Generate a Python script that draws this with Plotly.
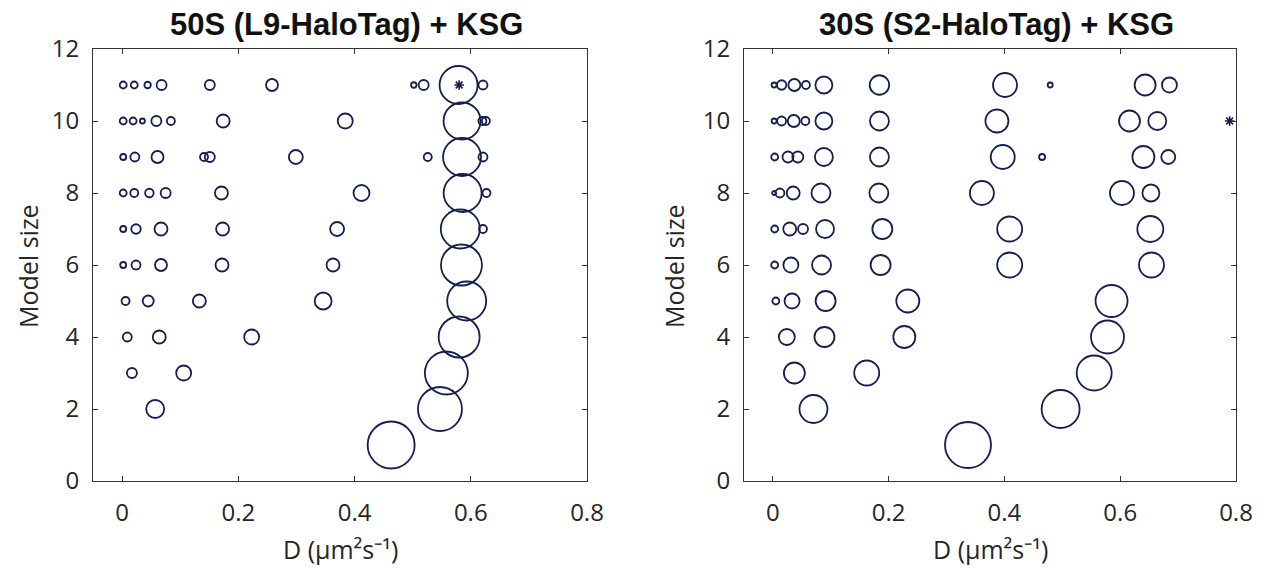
import plotly.graph_objects as go

# ---------------- data ----------------
# Left panel: 50S (L9-HaloTag) + KSG
left_model = [11]*10 + [10]*10 + [9]*9 + [8]*8 + [7]*7 + [6]*6 + [5]*5 + [4]*4 + [3]*3 + [2]*2 + [1]
left_D = [0.002, 0.021, 0.044, 0.068, 0.151, 0.258, 0.502, 0.519, 0.579, 0.621,
          0.002, 0.019, 0.035, 0.059, 0.084, 0.174, 0.384, 0.585, 0.620, 0.626,
          0.002, 0.022, 0.061, 0.141, 0.151, 0.299, 0.526, 0.585, 0.621,
          0.002, 0.021, 0.047, 0.075, 0.171, 0.412, 0.586, 0.627,
          0.002, 0.024, 0.067, 0.173, 0.370, 0.582, 0.621,
          0.002, 0.024, 0.067, 0.172, 0.363, 0.584,
          0.006, 0.045, 0.133, 0.346, 0.593,
          0.009, 0.064, 0.223, 0.580,
          0.017, 0.106, 0.558,
          0.057, 0.547,
          0.463]
left_weight = [7, 7, 6.5, 10, 10, 12, 5.5, 10, 38, 9,
               7, 7, 5, 10, 8, 13, 15, 37, 8, 8,
               6, 9, 12, 8, 10, 14, 8, 38, 9,
               7, 8, 8.5, 10, 13, 16, 38, 8,
               6, 9.5, 13, 13, 14, 39, 8,
               6, 9, 12, 13, 13, 41,
               8, 11, 13, 17, 39,
               9, 13, 15, 41,
               10, 15, 43,
               18, 44,
               47]
left_star_D = [0.580]
left_star_model = [11]

# Right panel: 30S (S2-HaloTag) + KSG
right_model = [11]*10 + [10]*9 + [9]*9 + [8]*8 + [7]*7 + [6]*6 + [5]*5 + [4]*4 + [3]*3 + [2]*2 + [1]
right_D = [0.002, 0.015, 0.037, 0.057, 0.088, 0.184, 0.401, 0.479, 0.643, 0.685,
           0.002, 0.015, 0.036, 0.056, 0.088, 0.184, 0.387, 0.616, 0.664,
           0.003, 0.026, 0.043, 0.088, 0.184, 0.397, 0.465, 0.640, 0.683,
           0.002, 0.012, 0.035, 0.083, 0.183, 0.361, 0.603, 0.653,
           0.003, 0.029, 0.052, 0.090, 0.189, 0.409, 0.652,
           0.003, 0.031, 0.084, 0.186, 0.409, 0.654,
           0.005, 0.033, 0.091, 0.233, 0.585,
           0.024, 0.089, 0.227, 0.578,
           0.037, 0.162, 0.555,
           0.070, 0.497,
           0.337]
right_weight = [5, 9.5, 12, 8, 17, 19.5, 24, 5, 21, 15,
                5, 9, 12, 8, 17, 19, 23, 21, 18,
                7, 11, 11, 18, 19, 24, 6, 22, 14,
                4, 9, 13, 19, 19, 24, 24, 17,
                7, 13, 10, 18, 20, 25, 26,
                7, 15, 19, 20, 25, 25,
                7, 15, 20, 23, 32,
                16, 20, 22, 33,
                21, 25, 35,
                28, 38,
                46]
right_star_D = [0.789]
right_star_model = [10]

titles = ["50S (L9-HaloTag) + KSG", "30S (S2-HaloTag) + KSG"]
x_ticks = [0, 0.2, 0.4, 0.6, 0.8]
x_ticklabels = ["0", "0.2", "0.4", "0.6", "0.8"]
y_ticks = [0, 2, 4, 6, 8, 10, 12]

# ---------------- figure ----------------
COL = "#16204e"
TITLE_FONT = "Liberation Sans, Arial, sans-serif"
FONT = "Open Sans, Liberation Sans, sans-serif"

# page body adds an 8px offset; work in window pixels and convert
OFF = 8
W, H = 1266 - OFF, 569 - OFF
fx = lambda px: (px - OFF) / W
fy = lambda py: 1 - (py - OFF) / H

fig = go.Figure()

def add_panel(xd, yd, w, sx, sy, xa, ya):
    fig.add_trace(go.Scatter(
        x=xd, y=yd, mode="markers", xaxis=xa, yaxis=ya, showlegend=False,
        marker=dict(size=w, sizemode="diameter", color=COL, opacity=1,
                    line=dict(color=COL, width=1.8), symbol="circle-open"),
    ))
    fig.add_trace(go.Scatter(
        x=sx, y=sy, mode="markers", xaxis=xa, yaxis=ya, showlegend=False,
        marker=dict(size=8, symbol="asterisk-open", color=COL,
                    line=dict(color=COL, width=1.6)),
    ))

add_panel(left_D, left_model, left_weight, left_star_D, left_star_model, "x", "y")
add_panel(right_D, right_model, right_weight, right_star_D, right_star_model, "x2", "y2")

y_dom = [fy(481), fy(49)]
xdom1 = [fx(93), fx(587)]
xdom2 = [fx(744), fx(1236)]

ax_common = dict(showline=True, linecolor="#333333", linewidth=1, mirror="ticks",
                 ticks="inside", ticklen=5, tickcolor="#333333", showgrid=False,
                 zeroline=False, automargin=False,
                 tickfont=dict(family=FONT, size=24, color="#262626"))

fig.update_layout(
    template="none",
    width=W, height=H,
    margin=dict(l=0, r=0, t=0, b=0, pad=0, autoexpand=False),
    paper_bgcolor="white", plot_bgcolor="white",
    xaxis=dict(domain=xdom1, range=[-0.05, 0.8], tickvals=x_ticks, ticktext=x_ticklabels,
               anchor="y", ticklabelstandoff=10, **ax_common),
    yaxis=dict(domain=y_dom, range=[0, 12], tickvals=y_ticks, anchor="x",
               ticklabelstandoff=8, **ax_common),
    xaxis2=dict(domain=xdom2, range=[-0.05, 0.8], tickvals=x_ticks, ticktext=x_ticklabels,
                anchor="y2", ticklabelstandoff=10, **ax_common),
    yaxis2=dict(domain=y_dom, range=[0, 12], tickvals=y_ticks, anchor="x2",
                ticklabelstandoff=8, **ax_common),
)

ann = []
for cx, t in zip([346, 996], titles):
    ann.append(dict(text="<b>" + t + "</b>", x=fx(cx), y=fy(24), xref="paper", yref="paper",
                    showarrow=False, xanchor="center", yanchor="middle",
                    font=dict(family=TITLE_FONT, size=31, color="#111111")))
for cx in [340, 990]:
    ann.append(dict(text="D (μm²s⁻¹)", x=fx(cx), y=fy(549), xref="paper", yref="paper",
                    showarrow=False, xanchor="center", yanchor="middle",
                    font=dict(family=FONT, size=25, color="#262626")))
for xp in [28, 674]:
    ann.append(dict(text="Model size", x=fx(xp), y=fy(266), xref="paper", yref="paper",
                    showarrow=False, textangle=-90, xanchor="center", yanchor="middle",
                    font=dict(family=FONT, size=25, color="#262626")))
fig.update_layout(annotations=ann)

fig.write_html("out.html")
